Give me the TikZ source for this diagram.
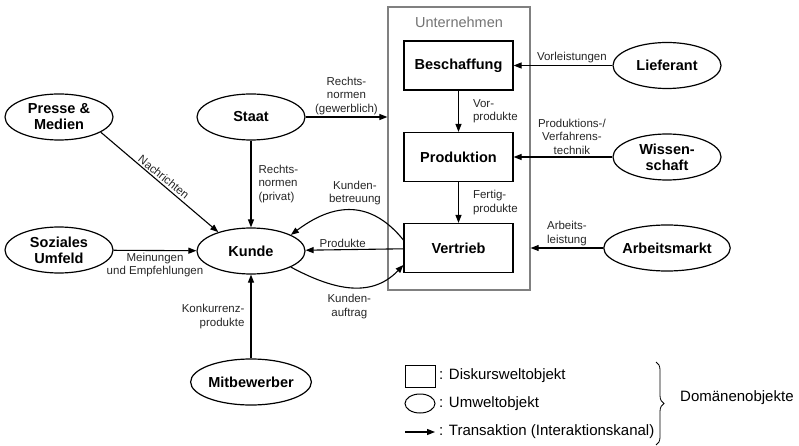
\documentclass[tikz,border=0pt]{standalone}
\usepackage{fontspec}
\setmainfont{Liberation Sans}
\usetikzlibrary{arrows.meta,shapes.geometric,decorations.pathreplacing}

\begin{document}
\begin{tikzpicture}[x=1pt,y=-1pt,
  >={Triangle[length=8pt,width=6pt]},
  umwelt/.style={draw,ellipse,line width=1.2pt,minimum width=108pt,minimum height=46pt,
    inner sep=0pt,align=center,font=\fontsize{14.5}{16}\selectfont\bfseries},
  diskurs/.style={draw,rectangle,line width=1.2pt,minimum width=109pt,minimum height=49pt,
    font=\fontsize{14.5}{16}\selectfont\bfseries},
  fluss/.style={->,line width=1.1pt},
  lbl/.style={font=\fontsize{11.5}{13.5}\selectfont,text=black!85,align=center,inner sep=2pt},
  legtxt/.style={anchor=west,font=\fontsize{15}{17}\selectfont,inner sep=0pt}]
\useasboundingbox (0,0) rectangle (799,446);

% Unternehmen mit seinen drei Bereichen
\node (untern) [draw=black!50,line width=1.3pt,minimum width=142pt,minimum height=283pt] at (459,148.5) {};
\node (unternlbl) [text=black!55,font=\fontsize{14.5}{16}\selectfont] at (459,22) {Unternehmen};

\node (beschaffung) [diskurs] at (458.5,65.5) {Beschaffung};
\node (produktion) [diskurs] at (458.5,157) {Produktion};
\node (vertrieb) [diskurs] at (458.5,248) {Vertrieb};

% Umwelt
\node (presse) [umwelt] at (59,117) {Presse \&\\Medien};
\node (staat) [umwelt] at (251,117) {Staat};
\node (soziales) [umwelt] at (59,250) {Soziales\\Umfeld};
\node (kunde) [umwelt] at (251,251) {Kunde};
\node (mitbewerber) [umwelt] at (251,382) {Mitbewerber};
\node (lieferant) [umwelt] at (667,65.5) {Lieferant};
\node (wissenschaft) [umwelt] at (667,157) {Wissen-\\schaft};
\node (arbeitsmarkt) [umwelt] at (667,248) {Arbeitsmarkt};

% Transaktionen
\draw[fluss] (lieferant) -- (beschaffung) node[lbl,above,pos=0.41] {Vorleistungen};
\draw[fluss] (wissenschaft) -- (produktion) node[lbl,above,pos=0.41] {Produktions-/\\Verfahrens-\\technik};
\draw[fluss] (arbeitsmarkt) -- (arbeitsmarkt -| untern.east) node[lbl,above,align=left,midway] {Arbeits-\\leistung};
\draw[fluss] (beschaffung) -- (produktion) node[lbl,right=12pt,align=left,midway] {Vor-\\produkte};
\draw[fluss] (produktion) -- (vertrieb) node[lbl,right=12pt,align=left,midway] {Fertig-\\produkte};

\draw[fluss] (staat) -- (staat -| untern.west) node[lbl,above,midway] {Rechts-\\normen\\(gewerblich)};
\draw[fluss] (staat) -- (kunde) node[lbl,right=5pt,align=left,midway] {Rechts-\\normen\\(privat)};
\draw[fluss] (presse.-20) -- (kunde.150) node[lbl,anchor=south,rotate=-39,midway] {Nachrichten};
\draw[fluss] (soziales) -- (kunde) node[lbl,below,midway] {Meinungen\\und Empfehlungen};
\draw[fluss] (mitbewerber) -- (kunde) node[lbl,left=4pt,align=right,midway] {Konkurrenz-\\produkte};

\draw[fluss] (vertrieb) -- (kunde) node[lbl,above,pos=0.62] {Produkte};
\draw[fluss] ([yshift=8pt]vertrieb.west) .. controls (375,205) and (340,198) .. (kunde.22)
  node[lbl,above=3pt,pos=0.5] {Kunden-\\betreuung};
\draw[fluss] (kunde.-22) .. controls (330,288) and (370,300) .. ([yshift=-17pt]vertrieb.west)
  node[lbl,below=5pt,pos=0.5] {Kunden-\\auftrag};

% Legende
\node (legrect) [draw,line width=1pt,minimum width=30pt,minimum height=22pt] at (420,376) {};
\node (legell) [draw,ellipse,line width=1pt,minimum width=30pt,minimum height=19pt] at (420,403.5) {};
\coordinate (lega) at (405,432);
\coordinate (legb) at (435,432);
\draw[fluss] (lega) -- (legb);
\node[legtxt] at (439,376) {: Diskursweltobjekt};
\node[legtxt] at (439,403.5) {: Umweltobjekt};
\node[legtxt] at (439,432) {: Transaktion (Interaktionskanal)};
\draw[line width=0.8pt,decorate,decoration={brace,amplitude=8pt}] (656,362) -- (656,445);
\node[legtxt] at (680,398) {Domänenobjekte};
\end{tikzpicture}
\end{document}
